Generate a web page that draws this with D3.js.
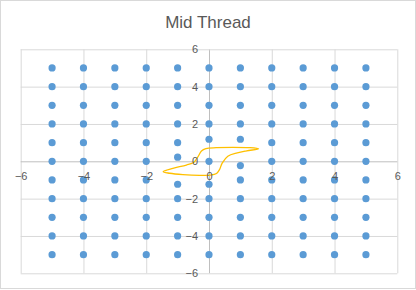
<!DOCTYPE html>
<html>
<head>
<meta charset="utf-8">
<script src="https://cdn.jsdelivr.net/npm/d3@7"></script>
<style>
  html, body { margin: 0; padding: 0; background: #fff; }
  svg { display: block; }
</style>
</head>
<body>
<svg id="chart" width="416" height="290"></svg>
<script>
// ---- Data ----
const title = "Mid Thread";
const tickValues = [-6, -4, -2, 0, 2, 4, 6];

// Scatter points (column by column, x = -5 .. 5)
const pointsX = [
  -5,-5,-5,-5,-5,-5,-5,-5,-5,-5,-5,
  -4,-4,-4,-4,-4,-4,-4,-4,-4,-4,-4,
  -3,-3,-3,-3,-3,-3,-3,-3,-3,-3,-3,
  -2,-2,-2,-2,-2,-2,-2,-2,-2,-2,-2,
  -1,-1,-1,-1,-1,-1,-1,-1,-1,-1,-1,
   0, 0, 0, 0, 0, 0, 0, 0, 0, 0, 0,
   1, 1, 1, 1, 1, 1, 1, 1, 1, 1, 1,
   2, 2, 2, 2, 2, 2, 2, 2, 2, 2, 2,
   3, 3, 3, 3, 3, 3, 3, 3, 3, 3, 3,
   4, 4, 4, 4, 4, 4, 4, 4, 4, 4, 4,
   5, 5, 5, 5, 5, 5, 5, 5, 5, 5, 5
];
const pointsY = [
  5, 4, 3, 2, 1, 0, -1, -2, -3, -4, -5,
  5, 4, 3, 2, 1, 0, -1, -2, -3, -4, -5,
  5, 4, 3, 2, 1, 0, -1, -2, -3, -4, -5,
  5, 4, 3, 2, 1, 0, -1, -2, -3, -4, -5,
  5, 4, 3, 2, 1, 0.22, -1.23, -2, -3, -4, -5,
  5, 4, 3, 2, 1.18, 0, -1.23, -2, -3, -4, -5,
  5, 4, 3, 2, 1.18, -0.23, -1, -2, -3, -4, -5,
  5, 4, 3, 2, 1, 0, -1, -2, -3, -4, -5,
  5, 4, 3, 2, 1, 0, -1, -2, -3, -4, -5,
  5, 4, 3, 2, 1, 0, -1, -2, -3, -4, -5,
  5, 4, 3, 2, 1, 0, -1, -2, -3, -4, -5
];

// Hysteresis loop (upper branch left->right, then lower branch right->left)
const loopX = [-1.46, -1.15, -0.72, -0.48, -0.36, -0.24, -0.1, 0.23, 0.76, 1.3, 1.58,
               1.2, 0.9, 0.6, 0.42, 0.33, 0.24, 0.05, -0.3, -0.83, -1.25];
const loopY = [-0.56, -0.38, -0.2, -0.05, 0.22, 0.55, 0.68, 0.73, 0.75, 0.73, 0.67,
               0.56, 0.45, 0.27, -0.1, -0.46, -0.65, -0.74, -0.75, -0.71, -0.64];

// ---- Layout ----
const svg = d3.select("#chart");
const W = 416, H = 290;
const plot = { left: 20.7, right: 397.3, top: 49.3, bottom: 273.3 };
const font = "'Liberation Sans', Arial, sans-serif";
const textColor = "#595959";

svg.append("rect")
  .attr("x", 0.5).attr("y", 0.5).attr("width", W - 1).attr("height", H - 2)
  .attr("fill", "#fff").attr("stroke", "#D9D9D9");

const x = d3.scaleLinear().domain([-6, 6]).range([plot.left, plot.right]);
const y = d3.scaleLinear().domain([-6, 6]).range([plot.bottom, plot.top]);

// Gridlines
const gx = svg.append("g")
  .attr("transform", `translate(0,${plot.bottom})`)
  .call(d3.axisBottom(x).tickValues(tickValues).tickSize(-(plot.bottom - plot.top)).tickFormat(""));
gx.select(".domain").remove();
gx.selectAll("line").attr("stroke", d => d === 0 ? "#BFBFBF" : "#D9D9D9").attr("stroke-width", 1);

const gy = svg.append("g")
  .attr("transform", `translate(${plot.left},0)`)
  .call(d3.axisLeft(y).tickValues(tickValues).tickSize(-(plot.right - plot.left)).tickFormat(""));
gy.select(".domain").remove();
gy.selectAll("line").attr("stroke", d => d === 0 ? "#BFBFBF" : "#D9D9D9").attr("stroke-width", 1);

// Scatter points
const pts = pointsX.map((px, i) => ({ x: px, y: pointsY[i] }));
svg.append("g").selectAll("circle").data(pts).join("circle")
  .attr("cx", d => x(d.x)).attr("cy", d => y(d.y)).attr("r", 3.6)
  .attr("fill", "#5B9BD5");

// Loop curve
const loop = loopX.map((lx, i) => [lx, loopY[i]]);
svg.append("path")
  .attr("d", d3.line().x(d => x(d[0])).y(d => y(d[1])).curve(d3.curveCatmullRomClosed.alpha(0.5))(loop))
  .attr("fill", "none").attr("stroke", "#FFC000").attr("stroke-width", 1.3);

// Axis labels through the zero lines
const ax = svg.append("g")
  .attr("transform", `translate(0,${y(0)})`)
  .call(d3.axisBottom(x).tickValues(tickValues).tickSize(0).tickPadding(11));
ax.select(".domain").remove();
ax.selectAll("text").attr("fill", textColor).style("font-family", font).style("font-size", "11px");

const ay = svg.append("g")
  .attr("transform", `translate(${x(0)},0)`)
  .call(d3.axisLeft(y).tickValues(tickValues).tickSize(0).tickPadding(11));
ay.select(".domain").remove();
ay.selectAll("text").attr("fill", textColor).style("font-family", font).style("font-size", "11px");

// Title
svg.append("text")
  .attr("x", 208).attr("y", 28)
  .attr("text-anchor", "middle")
  .attr("fill", textColor)
  .style("font-family", font).style("font-size", "17px")
  .text(title);
</script>
</body>
</html>
